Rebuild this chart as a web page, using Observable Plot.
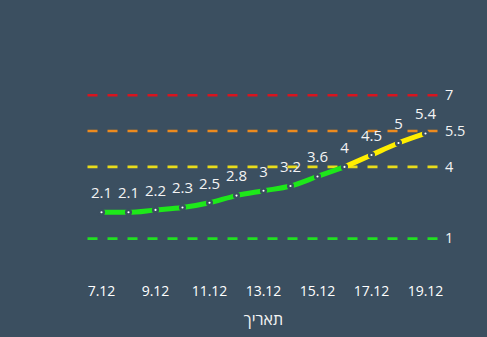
<!DOCTYPE html>
<html><head><meta charset="utf-8">
<script src="https://cdn.jsdelivr.net/npm/d3@7"></script>
<script src="https://cdn.jsdelivr.net/npm/@observablehq/plot@0.6"></script>
<style>
html,body{margin:0;padding:0;background:#3b4f60;}
#chart{width:487px;height:337px;}
</style></head>
<body><div id="chart"></div>
<script>
const days = [7,8,9,10,11,12,13,14,15,16,17,18,19];
const values = [2.1,2.1,2.2,2.3,2.5,2.8,3,3.2,3.6,4,4.5,5,5.4];
const tickDays = [7,9,11,13,15,17,19];
const thresholds = [1,4,5.5,7];
const thresholdColors = ["#22e022","#e8dc1a","#ec8a1e","#d8141e"];
const xTitle = "תאריך";

const pts = days.map((d,i)=>({d, v: values[i]}));
const low = pts.filter(p=>p.v<=4);
const high = pts.filter(p=>p.v>=4);
const refs = thresholds.map((t,i)=>({t, c: thresholdColors[i]}));

const chart = Plot.plot({
  width: 487, height: 337,
  marginLeft: 101, marginRight: 62, marginTop: 23, marginBottom: 75,
  style: {background: "#3b4f60", fontFamily: "'Open Sans', sans-serif", color: "#ffffff"},
  x: {domain: [7,19]},
  y: {domain: [0,10], axis: null},
  marks: [
    Plot.ruleY(refs, {y: "t", x1: 6.5, x2: 19.5, stroke: "c", strokeWidth: 2.6, strokeDasharray: "10,10"}),
    Plot.text(refs, {y: "t", x: 19.5, text: d=>String(d.t), dx: 6, textAnchor: "start", fill: "#f4f4f4", fontSize: 14.5}),
    Plot.line(low, {x: "d", y: "v", stroke: "#1ee81a", strokeWidth: 5, curve: "monotone-x"}),
    Plot.line(high, {x: "d", y: "v", stroke: "#ffee00", strokeWidth: 5, curve: "monotone-x"}),
    Plot.dot(pts, {x: "d", y: "v", r: 2.3, fill: "white", stroke: "#3b4f60", strokeWidth: 2.5}),
    Plot.text(pts, {x: "d", y: "v", text: d=>String(d.v), dy: -19, fill: "#f4f4f4", fontSize: 15}),
    Plot.axisX(tickDays, {tickSize: 0, tickPadding: 24, tickFormat: d=>d+".12", fontSize: 14, color: "#ffffff", label: null}),
    Plot.text([xTitle], {frameAnchor: "bottom", dy: 62, text: d=>d, fontSize: 16, fill: "#f4f4f4"})
  ]
});
document.getElementById("chart").append(chart);
</script></body></html>
